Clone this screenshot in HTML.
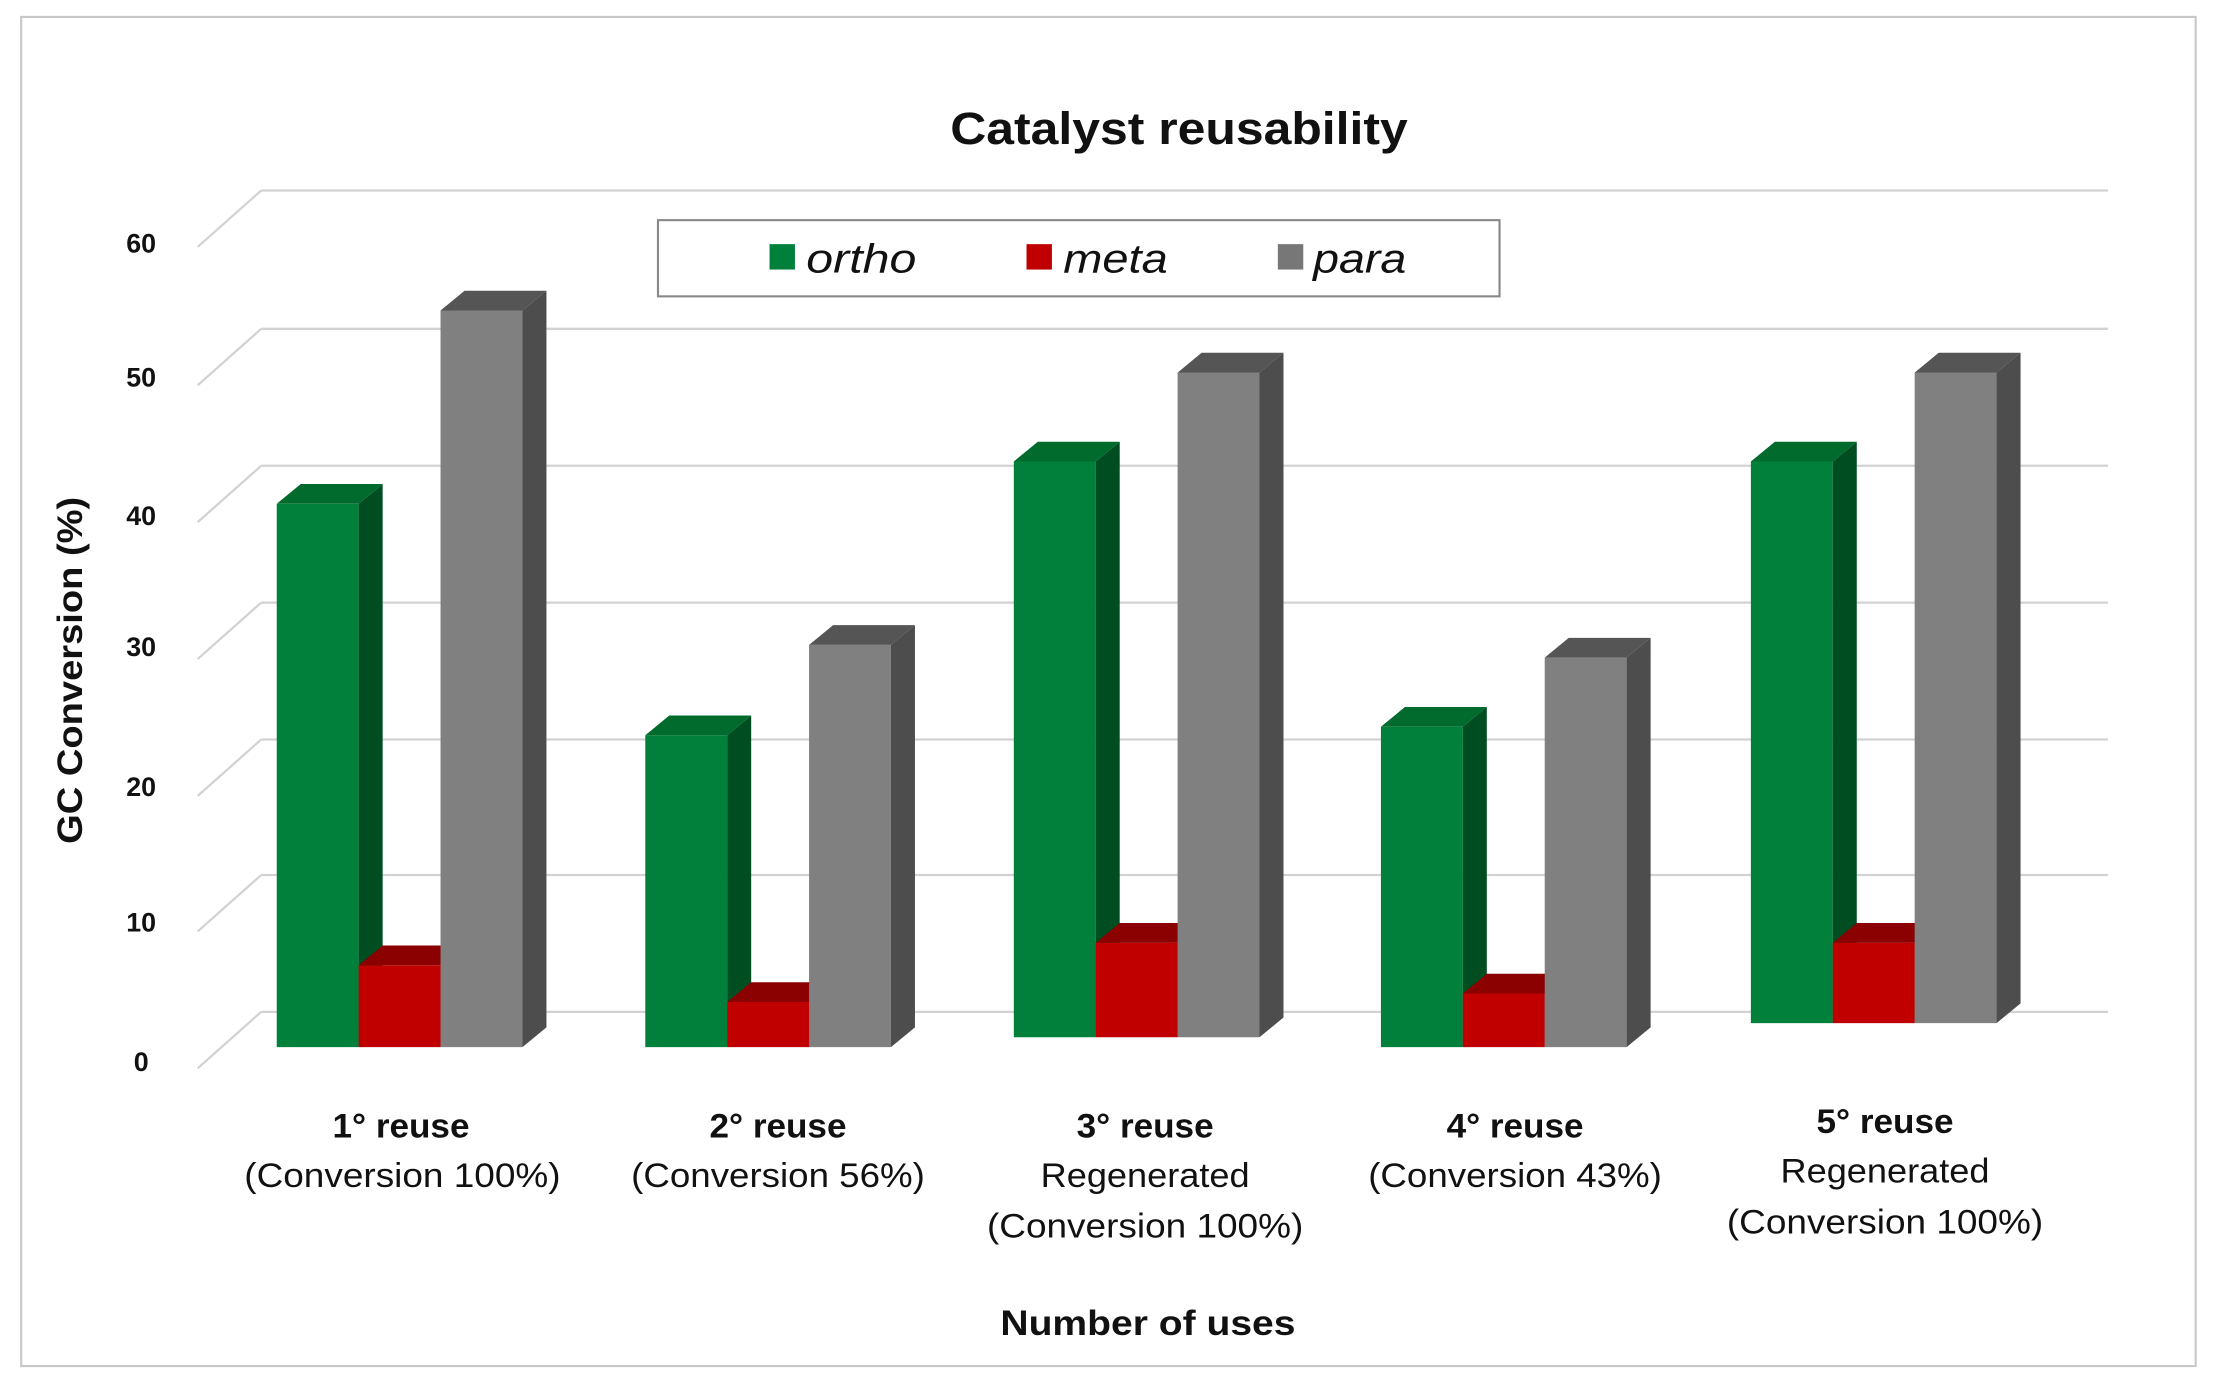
<!DOCTYPE html>
<html><head><meta charset="utf-8"><style>
html,body{margin:0;padding:0;background:#fff;}
svg{display:block;}
text{font-family:"Liberation Sans",sans-serif;fill:#111;}
</style></head><body>
<svg width="2214" height="1383" viewBox="0 0 1568 980" preserveAspectRatio="none" xmlns="http://www.w3.org/2000/svg">
<rect x="15" y="12" width="1540" height="956" fill="#fff" stroke="#c8c8c8" stroke-width="1.5"/>
<text x="835" y="102" text-anchor="middle" font-size="32" font-weight="bold" textLength="324" lengthAdjust="spacingAndGlyphs">Catalyst reusability</text>
<g stroke="#d2d2d2" stroke-width="1.6" fill="none">
<path d="M185 135H1493M140 175L185 135"/>
<path d="M185 233H1493M140 273L185 233"/>
<path d="M185 330H1493M140 370L185 330"/>
<path d="M185 427H1493M140 467L185 427"/>
<path d="M185 524H1493M140 564L185 524"/>
<path d="M185 620H1493M140 660L185 620"/>
<path d="M185 717H1493M140 757L185 717"/>
</g>
<g font-size="19" font-weight="bold" text-anchor="middle" fill="#222">
<text x="100" y="179">60</text><text x="100" y="274">50</text><text x="100" y="372">40</text>
<text x="100" y="465">30</text><text x="100" y="564">20</text><text x="100" y="660">10</text><text x="100" y="759">0</text>
</g>
<text transform="translate(58,475) rotate(-90)" text-anchor="middle" font-size="25" font-weight="bold" textLength="246" lengthAdjust="spacingAndGlyphs">GC Conversion (%)</text>
<rect x="466" y="156" width="596" height="54" fill="#fff" stroke="#888" stroke-width="1.5"/>
<rect x="545" y="173" width="18" height="18" fill="#00803a"/>
<text x="571" y="193" font-size="29" font-style="italic" textLength="78" lengthAdjust="spacingAndGlyphs">ortho</text>
<rect x="727" y="173" width="18" height="18" fill="#c00000"/>
<text x="753" y="193" font-size="29" font-style="italic" textLength="74" lengthAdjust="spacingAndGlyphs">meta</text>
<rect x="905" y="173" width="18" height="18" fill="#777"/>
<text x="930" y="193" font-size="29" font-style="italic" textLength="66" lengthAdjust="spacingAndGlyphs">para</text>
<!-- G1 -->
<rect x="196" y="357" width="58" height="385" fill="#00803a"/><polygon points="254,357 271,343 271,728 254,742" fill="#004d22"/><polygon points="196,357 213,343 271,343 254,357" fill="#006b2c"/>
<rect x="254" y="684" width="58" height="58" fill="#c00000"/><polygon points="312,684 329,670 329,728 312,742" fill="#800000"/><polygon points="254,684 271,670 329,670 312,684" fill="#8b0000"/>
<rect x="312" y="220" width="58" height="522" fill="#808080"/><polygon points="370,220 387,206 387,728 370,742" fill="#4d4d4d"/><polygon points="312,220 329,206 387,206 370,220" fill="#555"/>
<!-- G2 -->
<rect x="457" y="521" width="58" height="221" fill="#00803a"/><polygon points="515,521 532,507 532,728 515,742" fill="#004d22"/><polygon points="457,521 474,507 532,507 515,521" fill="#006b2c"/>
<rect x="515" y="710" width="58" height="32" fill="#c00000"/><polygon points="573,710 590,696 590,728 573,742" fill="#800000"/><polygon points="515,710 532,696 590,696 573,710" fill="#8b0000"/>
<rect x="573" y="457" width="58" height="285" fill="#808080"/><polygon points="631,457 648,443 648,728 631,742" fill="#4d4d4d"/><polygon points="573,457 590,443 648,443 631,457" fill="#555"/>
<!-- G3 -->
<rect x="718" y="327" width="58" height="408" fill="#00803a"/><polygon points="776,327 793,313 793,721 776,735" fill="#004d22"/><polygon points="718,327 735,313 793,313 776,327" fill="#006b2c"/>
<rect x="776" y="668" width="58" height="67" fill="#c00000"/><polygon points="834,668 851,654 851,721 834,735" fill="#800000"/><polygon points="776,668 793,654 851,654 834,668" fill="#8b0000"/>
<rect x="834" y="264" width="58" height="471" fill="#808080"/><polygon points="892,264 909,250 909,721 892,735" fill="#4d4d4d"/><polygon points="834,264 851,250 909,250 892,264" fill="#555"/>
<!-- G4 -->
<rect x="978" y="515" width="58" height="227" fill="#00803a"/><polygon points="1036,515 1053,501 1053,728 1036,742" fill="#004d22"/><polygon points="978,515 995,501 1053,501 1036,515" fill="#006b2c"/>
<rect x="1036" y="704" width="58" height="38" fill="#c00000"/><polygon points="1094,704 1111,690 1111,728 1094,742" fill="#800000"/><polygon points="1036,704 1053,690 1111,690 1094,704" fill="#8b0000"/>
<rect x="1094" y="466" width="58" height="276" fill="#808080"/><polygon points="1152,466 1169,452 1169,728 1152,742" fill="#4d4d4d"/><polygon points="1094,466 1111,452 1169,452 1152,466" fill="#555"/>
<!-- G5 -->
<rect x="1240" y="327" width="58" height="398" fill="#00803a"/><polygon points="1298,327 1315,313 1315,711 1298,725" fill="#004d22"/><polygon points="1240,327 1257,313 1315,313 1298,327" fill="#006b2c"/>
<rect x="1298" y="668" width="58" height="57" fill="#c00000"/><polygon points="1356,668 1373,654 1373,711 1356,725" fill="#800000"/><polygon points="1298,668 1315,654 1373,654 1356,668" fill="#8b0000"/>
<rect x="1356" y="264" width="58" height="461" fill="#808080"/><polygon points="1414,264 1431,250 1431,711 1414,725" fill="#4d4d4d"/><polygon points="1356,264 1373,250 1431,250 1414,264" fill="#555"/>
<g text-anchor="middle" font-size="24" lengthAdjust="spacingAndGlyphs">
<text x="284" y="806" font-weight="bold" textLength="97" lengthAdjust="spacingAndGlyphs">1° reuse</text><text x="285" y="841" textLength="224" lengthAdjust="spacingAndGlyphs">(Conversion 100%)</text>
<text x="551" y="806" font-weight="bold" textLength="97" lengthAdjust="spacingAndGlyphs">2° reuse</text><text x="551" y="841" textLength="208" lengthAdjust="spacingAndGlyphs">(Conversion 56%)</text>
<text x="811" y="806" font-weight="bold" textLength="97" lengthAdjust="spacingAndGlyphs">3° reuse</text><text x="811" y="841" textLength="148" lengthAdjust="spacingAndGlyphs">Regenerated</text><text x="811" y="877" textLength="224" lengthAdjust="spacingAndGlyphs">(Conversion 100%)</text>
<text x="1073" y="806" font-weight="bold" textLength="97" lengthAdjust="spacingAndGlyphs">4° reuse</text><text x="1073" y="841" textLength="208" lengthAdjust="spacingAndGlyphs">(Conversion 43%)</text>
<text x="1335" y="803" font-weight="bold" textLength="97" lengthAdjust="spacingAndGlyphs">5° reuse</text><text x="1335" y="838" textLength="148" lengthAdjust="spacingAndGlyphs">Regenerated</text><text x="1335" y="874" textLength="224" lengthAdjust="spacingAndGlyphs">(Conversion 100%)</text>
</g>
<text x="813" y="946" text-anchor="middle" font-size="25" font-weight="bold" textLength="209" lengthAdjust="spacingAndGlyphs">Number of uses</text>
</svg>
</body></html>
